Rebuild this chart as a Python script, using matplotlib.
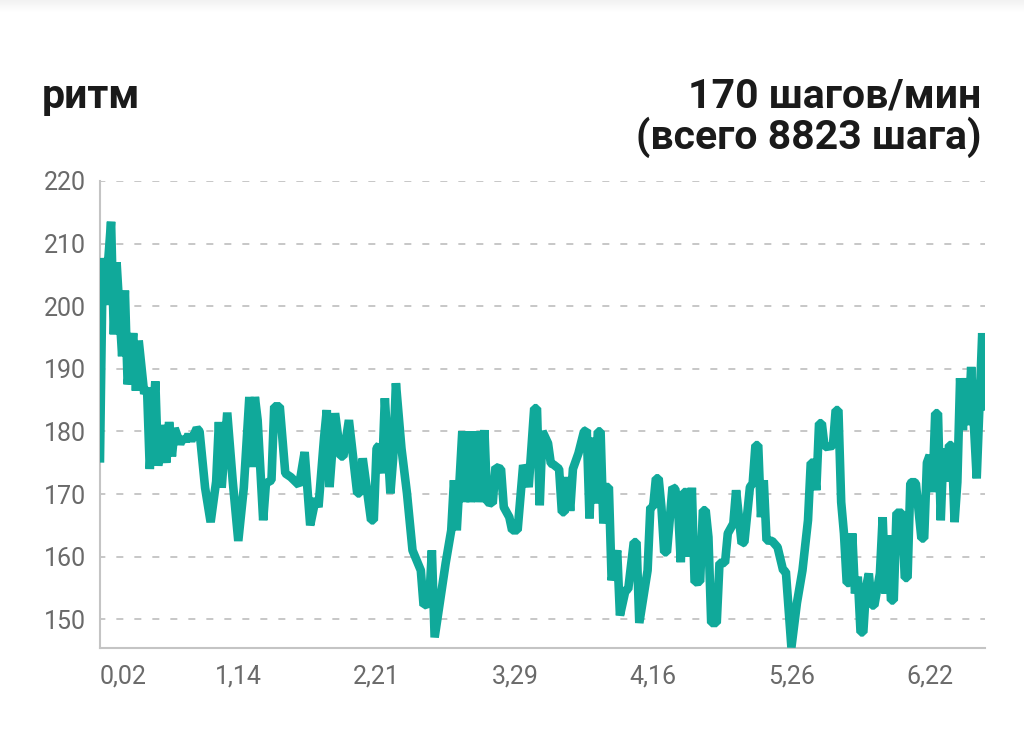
import matplotlib
matplotlib.use("Agg")
import matplotlib.pyplot as plt
from matplotlib.patches import Rectangle

# ---------------- data ----------------
sample_idx = [
    0, 1, 2, 3, 4, 5, 6, 8, 9, 10, 12, 13, 14, 16, 17, 18, 20, 21, 22, 24,
    25, 26, 27, 29, 30, 31, 32, 33, 35, 36, 38, 40, 42, 43, 44, 46, 48, 50, 52, 54,
    55, 56, 57, 59, 60, 62, 63, 65, 67, 69, 72, 74, 76, 78, 79, 81, 82, 83, 85, 87,
    88, 90, 93, 94, 95, 98, 99, 100, 101, 102, 103, 105, 106, 107, 109, 111, 113, 116, 117, 119,
    120, 121, 125, 127, 128, 129, 131, 132, 133, 134, 136, 137, 139, 140, 142, 143, 145, 146, 148, 149,
    151, 153, 154, 155, 157, 158, 159, 160, 162, 163, 164, 166, 167, 168, 169, 170, 171, 173, 175, 176,
    177, 178, 179, 180, 181, 182, 183, 184, 185, 187, 188, 190, 191, 193, 194, 195, 198, 199, 200, 201,
    202, 203, 204, 205, 207, 208, 209, 210, 211, 212, 213, 214, 215, 217, 218, 219, 220, 221, 223, 224,
    226, 227, 229, 230, 232, 233, 235, 236, 237, 238, 239, 240, 241, 243, 245, 247, 248, 250, 252, 254,
    256, 257, 258, 259, 260, 261, 262, 265, 266, 267, 268, 269, 270, 271, 272, 273, 274, 275, 276, 277,
    278, 279, 280, 282, 283, 284, 285, 286, 287, 288, 290, 291, 292, 293, 294, 295, 297, 298, 299, 300,
    301, 302, 303, 304, 305, 306, 307, 308, 309, 310, 311, 312, 313, 314, 315, 316, 317, 319, 320,
]
cadence = [
    175.7, 207.7, 200.2, 207.5, 213.5, 195.5, 207.0, 192.0, 202.5, 187.5, 195.7, 186.5, 194.5, 186.0, 187.0, 174.0, 188.0, 174.5, 181.0, 175.0,
    181.5, 176.0, 180.5, 178.0, 179.0, 178.5, 179.5, 178.5, 180.5, 180.0, 171.0, 165.5, 172.0, 181.5, 171.0, 183.0, 172.0, 162.5, 171.0, 185.5,
    174.3, 185.5, 181.8, 165.8, 171.7, 172.2, 184.0, 184.0, 173.3, 172.7, 171.4, 176.7, 165.0, 169.3, 167.9, 178.9, 183.4, 171.1, 182.9, 176.0,
    176.0, 181.8, 170.1, 170.1, 175.7, 165.8, 165.8, 177.3, 177.8, 173.3, 185.3, 170.1, 175.7, 187.7, 177.3, 170.1, 161.0, 157.8, 152.2, 152.5,
    161.0, 147.1, 159.0, 164.2, 172.2, 164.2, 180.0, 168.7, 180.0, 168.7, 180.0, 168.7, 180.2, 168.7, 168.5, 174.3, 174.0, 167.9, 166.3, 164.2,
    164.2, 174.6, 173.5, 171.1, 183.7, 183.7, 168.2, 180.0, 178.1, 174.9, 174.7, 174.0, 167.1, 167.1, 172.7, 167.3, 174.0, 176.5, 180.0, 180.2,
    166.1, 179.0, 168.5, 180.0, 180.0, 165.3, 171.1, 171.1, 156.2, 161.0, 150.6, 154.6, 154.8, 162.3, 162.3, 149.4, 157.8, 167.9, 167.9, 172.5,
    172.5, 167.9, 160.7, 160.7, 171.1, 170.8, 167.9, 159.1, 170.3, 170.3, 160.0, 171.0, 155.9, 156.0, 167.4, 167.4, 163.1, 149.4, 149.4, 159.0,
    159.0, 163.7, 165.3, 170.6, 162.1, 162.3, 171.1, 171.7, 177.8, 177.8, 166.3, 172.2, 162.6, 162.5, 161.5, 157.8, 157.6, 145.5, 152.6, 157.8,
    165.8, 175.0, 175.0, 170.6, 181.3, 181.3, 177.5, 177.7, 183.4, 183.4, 168.7, 163.7, 155.8, 155.8, 163.7, 154.1, 156.8, 147.9, 147.9, 155.1,
    157.3, 152.2, 152.2, 157.3, 166.3, 154.1, 163.4, 153.0, 153.0, 167.0, 167.0, 156.6, 156.6, 171.7, 172.0, 171.7, 162.9, 162.9, 175.0, 176.2,
    170.3, 182.9, 182.9, 165.8, 177.3, 172.0, 177.8, 177.8, 165.5, 171.9, 188.5, 180.2, 188.5, 181.0, 190.3, 181.0, 172.5, 195.7, 184.0,
]
tick_positions = [0, 50, 100, 150, 200, 250, 300]
tick_labels = ["0,02", "1,14", "2,21", "3,29", "4,16", "5,26", "6,22"]
y_ticks = [150, 160, 170, 180, 190, 200, 210, 220]
title_left = "ритм"
title_right = ["170 шагов/мин", "(всего 8823 шага)"]

# ---------------- style ----------------
W, H = 1024, 753
plt.rcParams["font.family"] = ["Roboto", "DejaVu Sans"]
fig = plt.figure(figsize=(W / 100, H / 100), dpi=100)
fig.patch.set_facecolor("white")

# faint card shadow at the top
for i in range(12):
    a = 0.05 * (1 - i / 12)
    fig.patches.append(Rectangle((0, 1 - (i + 1) / H), 1, 1 / H, transform=fig.transFigure,
                                 facecolor="black", alpha=a, edgecolor="none"))

ax = fig.add_axes([100 / W, 1 - 648 / H, 885 / W, (648 - 181) / H])
ax.plot(sample_idx, cadence, color="#10a99a", lw=6.2, solid_joinstyle="bevel", zorder=3)

ax.set_xlim(0, 320)
ax.set_ylim(145.4, 220)
ax.set_yticks(y_ticks)
ax.set_yticklabels([str(v) for v in y_ticks])
ax.set_xticks(tick_positions)
ax.set_xticklabels(tick_labels)
ax.get_xticklabels()[0].set_horizontalalignment("left")

ax.grid(axis="y", color="#bdbdbd", linestyle=(1, (4.2, 6.6)), linewidth=1.2, zorder=1)
ax.grid(axis="x", visible=False)
for s in ["top", "right"]:
    ax.spines[s].set_visible(False)
for s in ["left", "bottom"]:
    ax.spines[s].set_color("#c4c4c4")
    ax.spines[s].set_linewidth(1.5)
ax.tick_params(axis="both", length=0, labelsize=18, labelcolor="#6a6a6a")
ax.tick_params(axis="y", pad=10)
ax.tick_params(axis="x", pad=12)

fig.text(42 / W, 1 - 108 / H, title_left, fontsize=29.5, fontweight="bold",
         color="#1a1a1a", ha="left", va="baseline")
fig.text(981 / W, 1 - 107 / H, title_right[0], fontsize=29.5, fontweight="bold",
         color="#1a1a1a", ha="right", va="baseline")
fig.text(981 / W, 1 - 149 / H, title_right[1], fontsize=29.5, fontweight="bold",
         color="#1a1a1a", ha="right", va="baseline")

fig.savefig("out.png", dpi=100)
